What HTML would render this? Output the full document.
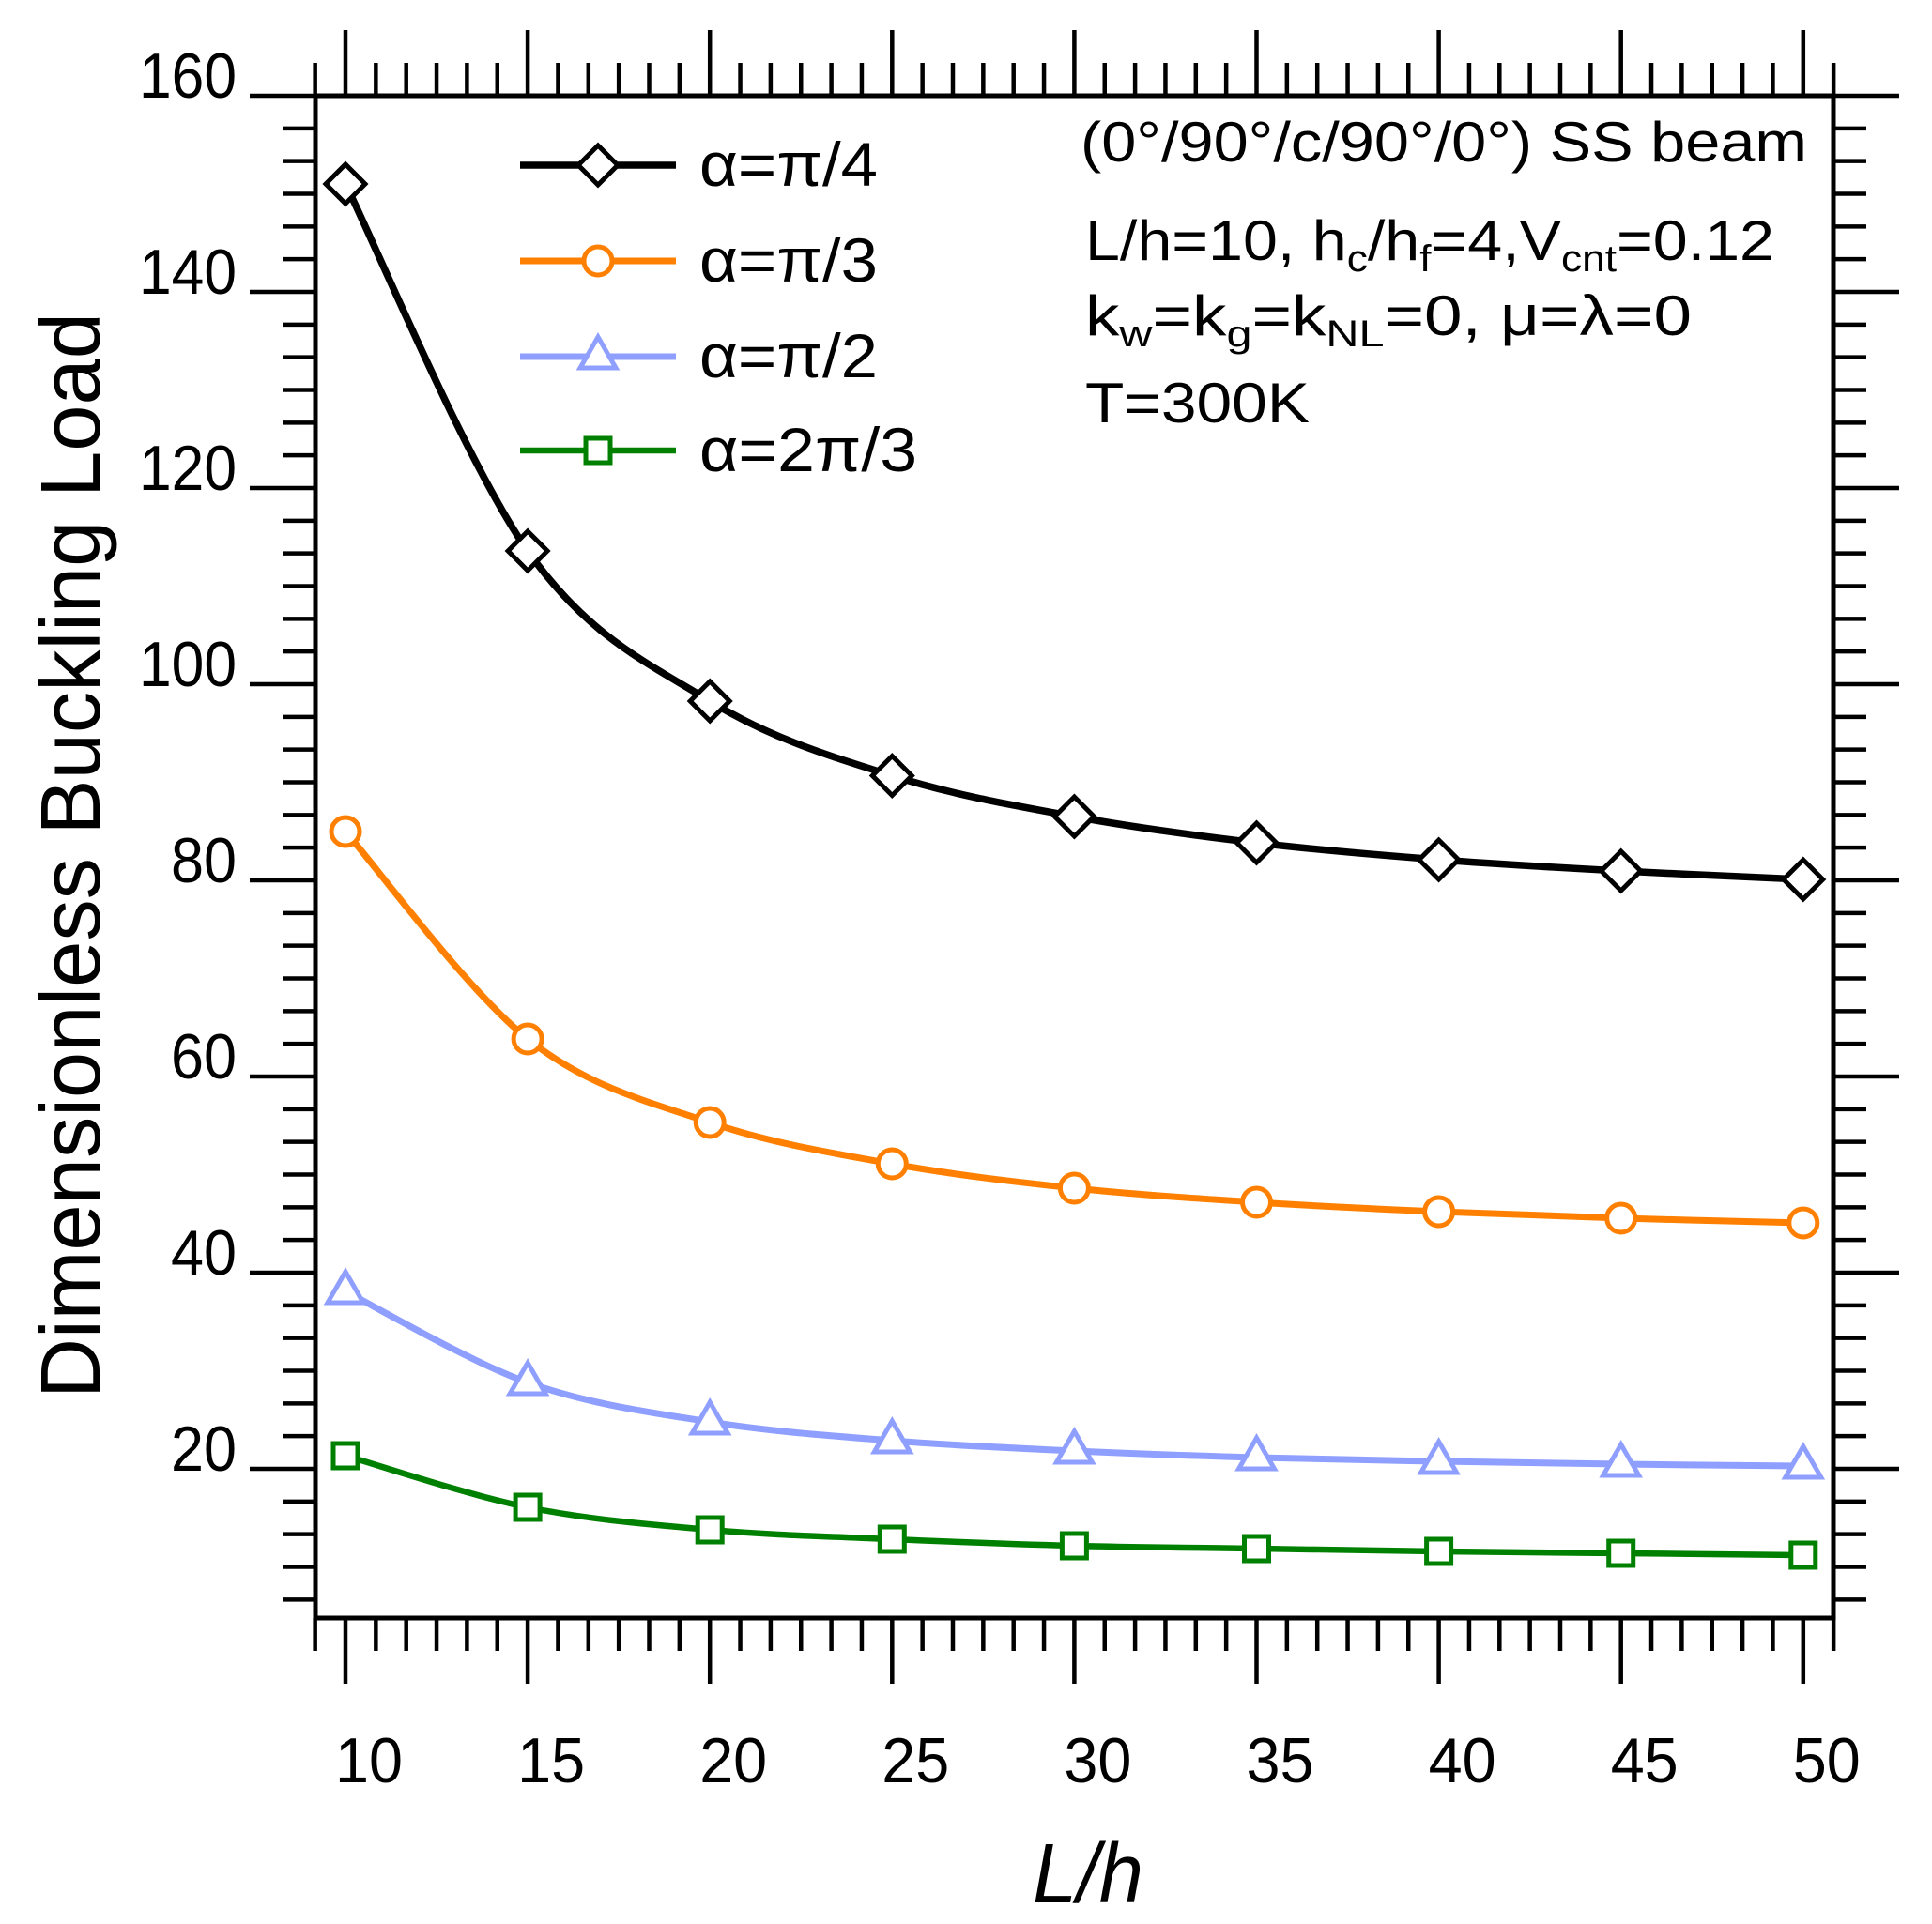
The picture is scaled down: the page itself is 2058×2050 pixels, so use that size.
<!DOCTYPE html>
<html><head><meta charset="utf-8"><style>
html,body{margin:0;padding:0;background:#fff;}
svg{display:block;}
text{font-family:"Liberation Sans",sans-serif;fill:#000;}
</style></head><body>
<svg id="s" width="2058" height="2050" viewBox="0 0 2058 2050" xmlns="http://www.w3.org/2000/svg">
<rect x="0" y="0" width="2058" height="2050" fill="#fff"/>
<g id="ticks" stroke="#000" stroke-width="4.5"></g>
<rect x="336" y="102" width="1617" height="1622" fill="none" stroke="#000" stroke-width="5"/>
<g id="curves"></g>
<!-- y tick labels -->
<g font-size="68" text-anchor="end">
<text x="252" y="104" textLength="104" lengthAdjust="spacingAndGlyphs">160</text>
<text x="252" y="313" textLength="104" lengthAdjust="spacingAndGlyphs">140</text>
<text x="252" y="522" textLength="104" lengthAdjust="spacingAndGlyphs">120</text>
<text x="252" y="731" textLength="104" lengthAdjust="spacingAndGlyphs">100</text>
<text x="252" y="940" textLength="70" lengthAdjust="spacingAndGlyphs">80</text>
<text x="252" y="1149" textLength="70" lengthAdjust="spacingAndGlyphs">60</text>
<text x="252" y="1358" textLength="70" lengthAdjust="spacingAndGlyphs">40</text>
<text x="252" y="1567" textLength="70" lengthAdjust="spacingAndGlyphs">20</text>
</g>
<g id="xl" font-size="68" text-anchor="middle"></g>
<text transform="translate(106,1490) rotate(-90)" font-size="90" textLength="1157" lengthAdjust="spacingAndGlyphs">Dimensionless Buckling Load</text>
<text x="1100" y="2027" font-size="90" font-style="italic" textLength="118" lengthAdjust="spacingAndGlyphs">L/h</text>
<!-- legend -->
<g font-size="66">
<text x="745" y="198" textLength="190" lengthAdjust="spacingAndGlyphs">α=π/4</text>
<text x="745" y="300" textLength="190" lengthAdjust="spacingAndGlyphs">α=π/3</text>
<text x="745" y="402" textLength="190" lengthAdjust="spacingAndGlyphs">α=π/2</text>
<text x="745" y="502" textLength="232" lengthAdjust="spacingAndGlyphs">α=2π/3</text>
</g>
<!-- annotation -->
<g font-size="60">
<text x="1151" y="172" textLength="774" lengthAdjust="spacingAndGlyphs">(0°/90°/c/90°/0°)  SS beam</text>
<text x="1156" y="277" textLength="734" lengthAdjust="spacingAndGlyphs">L/h=10, h<tspan font-size="40" dy="12">c</tspan><tspan dy="-12">/h</tspan><tspan font-size="40" dy="12">f</tspan><tspan dy="-12">=4,V</tspan><tspan font-size="40" dy="12">cnt</tspan><tspan dy="-12">=0.12</tspan></text>
<text x="1156" y="357" textLength="646" lengthAdjust="spacingAndGlyphs">k<tspan font-size="40" dy="12">w</tspan><tspan dy="-12">=k</tspan><tspan font-size="40" dy="12">g</tspan><tspan dy="-12">=k</tspan><tspan font-size="40" dy="12">NL</tspan><tspan dy="-12">=0, μ=λ=0</tspan></text>
<text x="1156" y="450" textLength="239" lengthAdjust="spacingAndGlyphs">T=300K</text>
</g>
</svg>
<script>
(function(){
var NS="http://www.w3.org/2000/svg";
function el(p,t,a){var e=document.createElementNS(NS,t);for(var k in a)e.setAttribute(k,a[k]);p.appendChild(e);return e;}
var tk=document.getElementById('ticks');
function X(v){return 368+(v-10)*38.82;}
function Y(v){return 102+(160-v)*10.45;}
for(var k=-1;k<=49;k++){var v=10+k*5/6;var x=X(v);var maj=(k%6===0);var L=maj?70:35;
 el(tk,'line',{x1:x,y1:102,x2:x,y2:102-L});el(tk,'line',{x1:x,y1:1724,x2:x,y2:1724+L});}
for(var j=0;j<=46;j++){var v=160-j*10/3;var y=Y(v);var maj=(j%6===0);var L=maj?70:35;
 el(tk,'line',{x1:336,y1:y,x2:336-L,y2:y});el(tk,'line',{x1:1953,y1:y,x2:1953+L,y2:y});}
var xl=document.getElementById('xl');
for(var i=0;i<9;i++){var t=el(xl,'text',{x:X(10+5*i)+25,y:1899,textLength:72,lengthAdjust:'spacingAndGlyphs'});t.textContent=String(10+5*i);}
var cv=document.getElementById('curves');
var data=[
 {c:'#000',m:'d',y:[196,587,747,826.5,870,898,916,928,937],w:7.5},
 {c:'#ff8000',m:'o',y:[886,1107,1196,1240,1266,1281,1291,1298,1303],w:7},
 {c:'#8f9fff',m:'t',y:[1376,1473,1515,1535,1546,1553,1557,1560,1562],w:7},
 {c:'#008000',m:'s',y:[1551,1606,1630,1640,1647,1650,1653,1655,1657],w:6.5}];
function marker(g,m,x,y,c){
 if(m==='d')el(g,'polygon',{points:(x)+','+(y-21)+' '+(x+21)+','+y+' '+x+','+(y+21)+' '+(x-21)+','+y,fill:'#fff',stroke:c,'stroke-width':5});
 else if(m==='o')el(g,'circle',{cx:x,cy:y,r:15,fill:'#fff',stroke:c,'stroke-width':5});
 else if(m==='t')el(g,'polygon',{points:x+','+(y-21)+' '+(x+19)+','+(y+12)+' '+(x-19)+','+(y+12),fill:'#fff',stroke:c,'stroke-width':5});
 else el(g,'rect',{x:x-13,y:y-13,width:26,height:26,fill:'#fff',stroke:c,'stroke-width':5});
}
var legY=[176,278,380,480];
data.forEach(function(s,si){
 var P=s.y.map(function(y,i){return [X(10+5*i),y];});
 var d='M'+P[0][0]+','+P[0][1];
 for(var i=0;i<P.length-1;i++){
  var p0=P[Math.max(i-1,0)],p1=P[i],p2=P[i+1],p3=P[Math.min(i+2,P.length-1)];
  var c1=[p1[0]+(p2[0]-p0[0])/6,p1[1]+(p2[1]-p0[1])/6];
  var c2=[p2[0]-(p3[0]-p1[0])/6,p2[1]-(p3[1]-p1[1])/6];
  d+=' C'+c1[0]+','+c1[1]+' '+c2[0]+','+c2[1]+' '+p2[0]+','+p2[1];
 }
 el(cv,'path',{d:d,fill:'none',stroke:s.c,'stroke-width':s.w});
 P.forEach(function(p){marker(cv,s.m,p[0],p[1],s.c);});
 var ly=legY[si];
 el(cv,'line',{x1:554,y1:ly,x2:720,y2:ly,stroke:s.c,'stroke-width':s.w});
 marker(cv,s.m,637,ly,s.c);
});
})();
</script>
</body></html>
